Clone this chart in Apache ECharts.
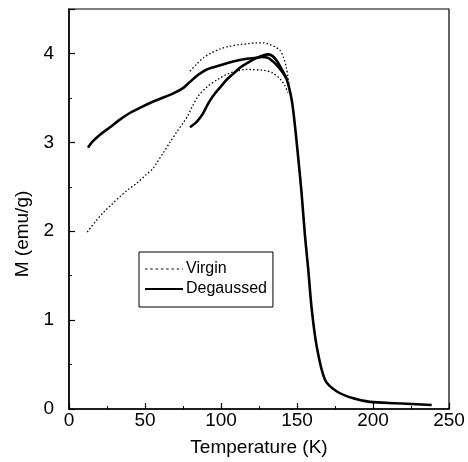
<!DOCTYPE html>
<html>
<head>
<meta charset="utf-8">
<script src="https://cdn.jsdelivr.net/npm/echarts@6/dist/echarts.min.js"></script>
<style>
html,body{margin:0;padding:0;background:#fff;}
#chart{width:468px;height:462px;}
</style>
</head>
<body>
<div id="chart"></div>
<script>
// Virgin: branch from 12 K
const virginT1 = [12, 17, 22.6, 28, 33.6, 39, 44.5, 51, 55, 57.7, 62, 66.4, 71, 75.2, 78.5, 80.7, 85, 90.6, 98, 106, 117, 127.8, 134, 139, 142, 144];
const virginM1 = [1.99, 2.1, 2.21, 2.3, 2.39, 2.47, 2.54, 2.64, 2.70, 2.77, 2.88, 3.0, 3.12, 3.22, 3.31, 3.39, 3.52, 3.62, 3.71, 3.78, 3.82, 3.81, 3.78, 3.71, 3.64, 3.56];
// Virgin: branch from 80 K
const virginT2 = [79.6, 84, 88.4, 93, 99.3, 105, 112.5, 118, 123.5, 128, 132, 136, 139, 141, 143, 145];
const virginM2 = [3.80, 3.88, 3.95, 4.0, 4.05, 4.08, 4.10, 4.11, 4.12, 4.12, 4.10, 4.07, 4.03, 3.96, 3.84, 3.62];
// Degaussed: branch from 12 K (with the drop and tail)
const degT1 = [12.5, 15, 20, 27, 33, 40, 47, 53, 60, 68.6, 75, 79.6, 85, 90.6, 100, 108, 117, 123, 127, 131, 136, 140, 143, 146.5, 148.7, 150.9, 153, 155.3, 157.4, 159.7, 163, 168.4, 176, 187, 198, 215.6, 238.6];
const degM1 = [2.94, 3.0, 3.08, 3.17, 3.25, 3.33, 3.39, 3.44, 3.49, 3.55, 3.61, 3.68, 3.76, 3.82, 3.87, 3.91, 3.94, 3.95, 3.96, 3.95, 3.88, 3.80, 3.72, 3.48, 3.18, 2.81, 2.43, 1.94, 1.57, 1.12, 0.70, 0.33, 0.20, 0.12, 0.08, 0.064, 0.045];
// Degaussed: branch from 80 K
const degT2 = [79.6, 84, 88, 92, 96, 100, 104, 108, 112.5, 118, 123.5, 128, 131, 134, 137, 140, 143];
const degM2 = [3.17, 3.23, 3.32, 3.45, 3.55, 3.63, 3.71, 3.77, 3.84, 3.90, 3.95, 3.98, 3.99, 3.97, 3.91, 3.82, 3.72];

const xTicks = [0, 50, 100, 150, 200, 250];
const yTicks = [0, 1, 2, 3, 4];

function zip(a, b) { return a.map((v, i) => [v, b[i]]); }

const FONT = '"Liberation Sans", Arial, sans-serif';
const dotted = { color: '#000', width: 1.3, type: [1.5, 2.2] };
const solid = { color: '#000', width: 2.6, type: 'solid' };

const chart = echarts.init(document.getElementById('chart'));
chart.setOption({
  animation: false,
  backgroundColor: '#fff',
  grid: { left: 69, right: 19, top: 9, bottom: 53, show: true, borderColor: '#000', borderWidth: 1.2 },
  legend: {
    data: [
      { name: 'Virgin', lineStyle: { type: [2.4, 2.9], width: 1.2, color: '#000' } },
      { name: 'Degaussed', lineStyle: { type: 'solid', width: 2, color: '#000' } }
    ],
    orient: 'vertical',
    left: 139, top: 252,
    padding: [9, 6, 10, 5],
    itemGap: 4,
    itemWidth: 38, itemHeight: 14,
    borderColor: '#000', borderWidth: 1,
    backgroundColor: '#fff',
    itemStyle: { opacity: 0 },
    textStyle: { fontFamily: FONT, fontSize: 16, color: '#000', padding: [0, 0, 0, -2] }
  },
  xAxis: {
    type: 'value', min: 0, max: 250, interval: 50,
    name: 'Temperature (K)', nameLocation: 'middle', nameGap: 29,
    nameTextStyle: { fontFamily: FONT, fontSize: 19, color: '#000' },
    axisLine: { lineStyle: { color: '#000', width: 1.5 } },
    axisTick: { inside: true, length: 6, lineStyle: { color: '#000', width: 1.2 } },
    minorTick: { show: true, splitNumber: 2, length: 3, lineStyle: { color: '#000', width: 1 } },
    splitLine: { show: false },
    axisLabel: { fontFamily: FONT, fontSize: 19, color: '#000', margin: 2,
      formatter: v => xTicks.includes(v) ? String(v) : '' }
  },
  yAxis: {
    type: 'value', min: 0, max: 4.5, interval: 1,
    name: 'M (emu/g)', nameLocation: 'middle', nameGap: 28,
    nameTextStyle: { fontFamily: FONT, fontSize: 19, color: '#000', padding: [0, 50, 0, 0] },
    axisLine: { show: true, lineStyle: { color: '#000', width: 1.5 } },
    axisTick: { inside: true, length: 6, lineStyle: { color: '#000', width: 1.2 } },
    minorTick: { show: true, splitNumber: 2, length: 3, lineStyle: { color: '#000', width: 1 } },
    splitLine: { show: false },
    axisLabel: { fontFamily: FONT, fontSize: 19, color: '#000', margin: 15, showMaxLabel: false,
      formatter: v => yTicks.includes(v) ? String(v) : '' }
  },
  series: [
    { name: 'Virgin', type: 'line', data: zip(virginT1, virginM1), smooth: 0.3, symbol: 'none', lineStyle: dotted, itemStyle: { color: '#000' } },
    { name: 'Virgin', type: 'line', data: zip(virginT2, virginM2), smooth: 0.3, symbol: 'none', lineStyle: dotted, itemStyle: { color: '#000' } },
    { name: 'Degaussed', type: 'line', data: zip(degT1, degM1), smooth: 0.3, symbol: 'none', lineStyle: solid, itemStyle: { color: '#000' } },
    { name: 'Degaussed', type: 'line', data: zip(degT2, degM2), smooth: 0.3, symbol: 'none', lineStyle: solid, itemStyle: { color: '#000' } }
  ]
});
</script>
</body>
</html>
